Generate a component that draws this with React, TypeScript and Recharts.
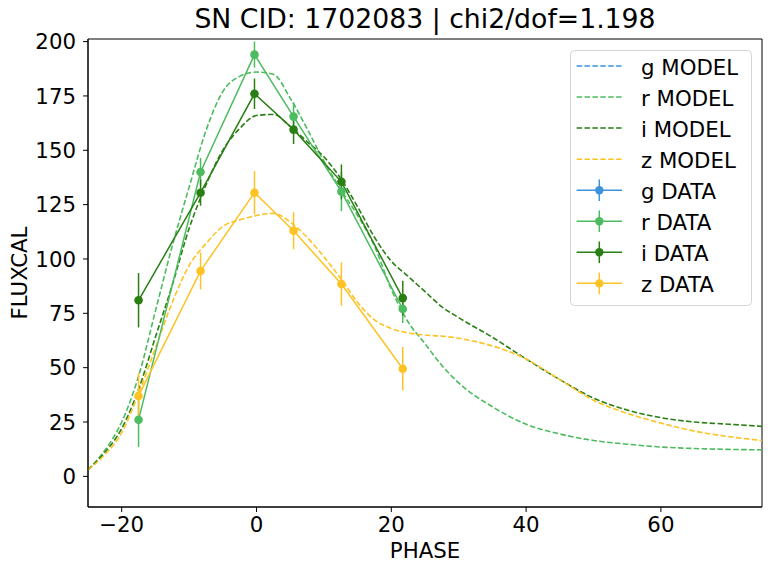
import {
  ComposedChart, Line, XAxis, YAxis, ErrorBar, Legend, ReferenceArea,
} from 'recharts'

// light-curve fit for one supernova: model curves (dashed) and photometry (points)
const TITLE = 'SN CID: 1702083 | chi2/dof=1.198'

const BAND_COLORS: Record<string, string> = {
  g: '#3b93de',
  r: '#4dbb5f',
  i: '#2a7f14',
  z: '#fdc325',
}

const xTicks = [-20, 0, 20, 40, 60]
const yTicks = [0, 25, 50, 75, 100, 125, 150, 175, 200]

// model grid (phase, days)
const modelPhase = [
  -25, -22.5, -20, -17.5, -15, -12.5, -10, -7.5, -5, -2.5, 0, 2.5, 5, 7.5, 10, 12.5,
  15, 17.5, 20, 22.5, 25, 27.5, 30, 35, 40, 45, 50, 55, 60, 65, 70, 75,
]
const rModel = [
  3, 12, 25, 46, 76, 106, 133, 159, 177, 184, 186, 185, 174, 160, 145, 132,
  120, 106, 86, 71, 61, 51, 43, 32, 24, 19.5, 16.5, 14.8, 13.5, 12.8, 12.4, 12.2,
]
const iModel = [
  3, 11, 22, 40, 64, 88, 114, 134, 150, 160, 166, 166.5, 161, 154, 147, 137,
  124, 110, 99, 92, 85, 78, 73, 64, 54, 44.5, 36, 30.5, 27, 25, 24, 23,
]
const zModel = [
  3, 10, 20, 38, 59, 80, 97, 107, 115, 118, 120, 121, 117, 110, 101, 91,
  80, 72, 68, 66, 65, 64.5, 63.5, 60, 54, 44.5, 35, 29, 24.5, 20.8, 18.3, 16.5,
]

// photometry epochs, shared by all bands
const obsPhase = [-17.5, -8.3, -0.3, 5.5, 12.6, 21.7]
const rFlux = [26, 140, 194, 165.5, 131, 77]
const rErr = [12.5, 6.5, 6, 6.5, 9, 6.5]
const iFlux = [81, 130.5, 176, 159.5, 135.5, 82]
const iErr = [12.5, 6, 7, 6.6, 8, 8]
const zFlux = [37, 94.5, 130.5, 113, 88.5, 49.5]
const zErr = [10.5, 8.5, 10, 8.5, 10, 10]

const X_MIN = -25
const X_MAX = 75
const Y_MIN = -14.1
const Y_MAX = 201.2

const modelRows = modelPhase.map((x, k) => ({ x, r: rModel[k], i: iModel[k], z: zModel[k] }))
const points = (flux: number[], err: number[]) =>
  obsPhase.map((x, k) => ({ x, y: flux[k], err: err[k] }))

const FONT = 'DejaVu Sans, Verdana, sans-serif'
const DASH = '5.5 2.4'

const fmtTick = (v: number) => (v < 0 ? `\u2212${Math.abs(v)}` : String(v))

const legendItems = [
  { band: 'g', label: 'g MODEL', kind: 'model' },
  { band: 'r', label: 'r MODEL', kind: 'model' },
  { band: 'i', label: 'i MODEL', kind: 'model' },
  { band: 'z', label: 'z MODEL', kind: 'model' },
  { band: 'g', label: 'g DATA', kind: 'data' },
  { band: 'r', label: 'r DATA', kind: 'data' },
  { band: 'i', label: 'i DATA', kind: 'data' },
  { band: 'z', label: 'z DATA', kind: 'data' },
]

function LegendBox() {
  const w = 181
  const h = 255
  return (
    <svg width={w + 2} height={h + 2} style={{ overflow: 'visible', display: 'block' }}>
      <rect x={0.5} y={0.5} width={w} height={h} rx={4} ry={4}
        fill="#ffffff" fillOpacity={0.8} stroke="#d4d4d4" strokeWidth={1} />
      {legendItems.map((it, k) => {
        const cy = 16 + k * 31.05
        const c = BAND_COLORS[it.band]
        return (
          <g key={it.label}>
            <line x1={6.6} x2={52} y1={cy} y2={cy} stroke={c} strokeWidth={1.5}
              strokeDasharray={it.kind === 'model' ? DASH : undefined} />
            {it.kind === 'data' && (
              <>
                <line x1={29.3} x2={29.3} y1={cy - 10.8} y2={cy + 10.8} stroke={c} strokeWidth={1.5} />
                <circle cx={29.3} cy={cy} r={4.2} fill={c} />
              </>
            )}
            <text x={71} y={cy + 9} fontSize={21.3} fontFamily={FONT} fill="#000">{it.label}</text>
          </g>
        )
      })}
    </svg>
  )
}

export default function App() {
  return (
    <div style={{ position: 'absolute', left: 0, top: 0, width: 772, height: 572, background: '#fff' }}>
      <ComposedChart
        width={772}
        height={572}
        data={modelRows}
        margin={{ top: 39, right: 10, bottom: 0, left: 0 }}
        style={{ fontFamily: FONT }}
      >
        <XAxis
          type="number"
          dataKey="x"
          domain={[X_MIN, X_MAX]}
          ticks={xTicks}
          allowDataOverflow
          tickFormatter={fmtTick}
          tick={{ fontSize: 21.3, fill: '#000', fontFamily: FONT }}
          tickSize={5}
          tickMargin={5}
          tickLine={{ stroke: '#000', strokeWidth: 1 }}
          axisLine={{ stroke: '#000', strokeWidth: 1 }}
          height={65}
          label={{ value: 'PHASE', position: 'insideBottom', offset: 14.3, fontSize: 21.3, fill: '#000', fontFamily: FONT }}
        />
        <YAxis
          type="number"
          domain={[Y_MIN, Y_MAX]}
          ticks={yTicks}
          allowDataOverflow
          tickFormatter={fmtTick}
          tick={{ fontSize: 21.3, fill: '#000', fontFamily: FONT }}
          tickSize={5}
          tickMargin={7}
          tickLine={{ stroke: '#000', strokeWidth: 1 }}
          axisLine={{ stroke: '#000', strokeWidth: 1 }}
          width={88}
          label={{
            value: 'FLUXCAL', angle: -90, position: 'insideLeft', offset: 19,
            fontSize: 21.3, fill: '#000', fontFamily: FONT, style: { textAnchor: 'middle' },
          }}
        />
        <ReferenceArea x1={X_MIN} x2={X_MAX} y1={Y_MIN} y2={Y_MAX} fill="none" stroke="#000" strokeWidth={1} ifOverflow="visible" />

        <Line dataKey="r" type="monotone" stroke={BAND_COLORS.r} strokeWidth={1.6} strokeDasharray={DASH} dot={false} isAnimationActive={false} />
        <Line dataKey="i" type="monotone" stroke={BAND_COLORS.i} strokeWidth={1.6} strokeDasharray={DASH} dot={false} isAnimationActive={false} />
        <Line dataKey="z" type="monotone" stroke={BAND_COLORS.z} strokeWidth={1.6} strokeDasharray={DASH} dot={false} isAnimationActive={false} />

        {([
          ['r', rFlux, rErr],
          ['i', iFlux, iErr],
          ['z', zFlux, zErr],
        ] as [string, number[], number[]][]).map(([band, flux, err]) => (
          <Line
            key={band + 'data'}
            data={points(flux, err)}
            dataKey="y"
            type="linear"
            stroke={BAND_COLORS[band]}
            strokeWidth={1.5}
            dot={{ r: 4.3, fill: BAND_COLORS[band], stroke: 'none' }}
            activeDot={false}
            isAnimationActive={false}
          >
            <ErrorBar dataKey="err" direction="y" width={0} stroke={BAND_COLORS[band]} strokeWidth={1.5} isAnimationActive={false} />
          </Line>
        ))}

        <Legend
          layout="horizontal"
          verticalAlign="middle"
          align="center"
          content={() => <LegendBox />}
          wrapperStyle={{ position: 'absolute', left: 570, top: 49.5, width: 183, height: 257 }}
        />
        <text x={425} y={28} textAnchor="middle" fontSize={26.7} fontFamily={FONT} fill="#000">{TITLE}</text>
      </ComposedChart>
    </div>
  )
}
